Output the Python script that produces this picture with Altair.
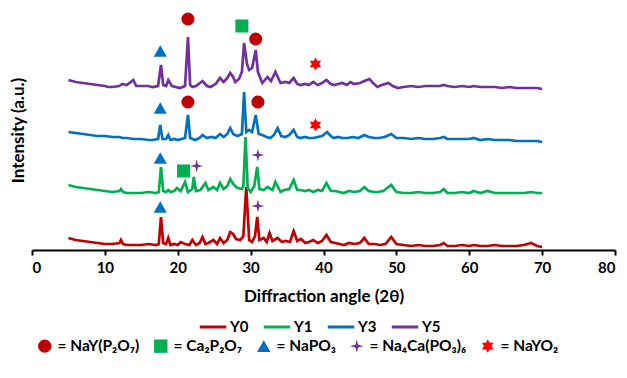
import altair as alt
import pandas as pd

FONT = "Lato"

series_names = ["Y0", "Y1", "Y3", "Y5"]
series_colors = ["#C00000", "#00B050", "#0070C0", "#7030A0"]
series_offsets = [0, 52, 104, 156]

# ---- Y0 ----
y0_x = [5, 6, 7, 8, 9, 10, 11, 12, 12.2, 12.5, 13, 14, 15, 16, 17, 17.4, 17.7, 18.0, 18.4, 18.7,
        19.0, 19.5, 20.0, 20.4, 21.0, 21.6, 22.0, 22.5, 23.0, 23.4, 23.8, 24.2, 24.9, 25.4, 25.8,
        26.3, 26.8, 27.2, 27.6, 28.0, 28.6, 29.0, 29.4, 29.8, 30.2, 30.6, 30.9, 31.2, 31.8, 32.2,
        32.6, 33.0, 33.7, 34.3, 34.8, 35.4, 35.9, 36.4, 36.9, 37.5, 38.0, 38.6, 39.2, 39.8, 40.4,
        41.0, 41.6, 42.2, 42.8, 43.5, 44.2, 45.0, 45.6, 46.2, 47.0, 47.8, 48.5, 49.3, 50.0, 51,
        52, 53, 54, 55, 56, 56.5, 57, 58, 59, 60, 60.6, 61.5, 62.5, 63.5, 64.5, 65.5, 66.5, 67.5,
        68.5, 69.3, 70]
y0_i = [12, 10, 9, 8, 7, 6, 6, 7, 10, 6, 5, 5, 5, 6, 5, 6, 33, 7, 6, 12,
        5, 6, 5, 8, 6, 5, 10, 5, 7, 13, 6, 7, 10, 6, 12,
        7, 10, 18, 16, 11, 10, 14, 63, 10, 8, 14, 33, 10, 12, 8,
        17, 9, 12, 8, 9, 8, 19, 9, 11, 7, 8, 10, 7, 9, 15,
        8, 7, 6, 5, 7, 6, 7, 12, 6, 6, 5, 6, 13, 6, 5,
        4, 5, 4, 4, 5, 7, 4, 4, 5, 4, 5, 4, 4, 5, 4, 4, 4, 5,
        7, 4, 3]

# ---- Y1 ----
y1_x = [5, 6, 7, 8, 9, 10, 11, 12, 12.2, 12.5, 13, 14, 15, 16, 17, 17.4, 17.7, 18.0, 18.4, 18.7,
        19.0, 19.5, 19.9, 20.4, 21.0, 21.4, 22.0, 22.2, 22.5, 23.1, 23.8, 24.2, 24.9, 25.4, 25.8,
        26.3, 26.8, 27.2, 27.6, 28.2, 28.8, 29.0, 29.3, 29.6, 30.0, 30.5, 30.9, 31.2, 31.8, 32.3,
        33.0, 33.4, 34.1, 34.6, 35.3, 35.9, 36.4, 36.8, 37.5, 38.0, 38.6, 39.2, 39.8, 40.4,
        41.0, 41.6, 42.2, 42.8, 43.5, 44.2, 45.0, 45.6, 46.2, 47.0, 47.4, 48.2, 49.3, 50.0, 51,
        52, 53, 54, 55, 56, 56.5, 57, 58, 59, 60, 60.6, 61.5, 62.5, 63.5, 64.5, 65.5, 66.5, 67.5,
        68.5, 69.3, 70]
y1_i = [13, 11, 10, 9, 8, 7, 6, 7, 9, 6, 5, 5, 5, 6, 5, 6, 31, 7, 6, 8,
        6, 7, 10, 7, 16, 6, 9, 21, 7, 8, 15, 8, 11, 8, 15,
        9, 12, 19, 14, 10, 9, 12, 61, 10, 6, 12, 31, 9, 8, 11,
        8, 16, 6, 8, 9, 18, 8, 8, 7, 8, 6, 8, 7, 15,
        7, 7, 6, 5, 7, 6, 7, 11, 7, 6, 6, 7, 13, 6, 5,
        5, 6, 5, 5, 6, 9, 5, 5, 6, 5, 7, 5, 7, 5, 5, 5, 5, 5,
        6, 5, 5]

# ---- Y3 ----
y3_x = [5, 6, 7, 8, 9, 10, 11, 12, 12.4, 13, 14, 15, 16, 16.5, 17.3, 17.6, 17.9, 18.4, 18.7,
        19.0, 19.5, 20.0, 20.5, 21.0, 21.4, 21.7, 22.4, 23.0, 23.4, 24.0, 24.6, 25.2, 25.8,
        26.3, 26.8, 27.2, 27.6, 28.2, 28.8, 29.1, 29.4, 29.8, 30.2, 30.7, 31.1, 31.6, 32.2,
        32.7, 33.2, 33.7, 34.2, 34.8, 35.3, 35.9, 36.4, 36.8, 37.5, 38.0, 38.6, 39.2, 39.8, 40.5,
        41.0, 41.4, 42.0, 42.6, 43.3, 44.0, 44.8, 45.6, 46.2, 47.0, 47.6, 48.4, 49.3, 50.0, 51,
        52, 53, 54, 55, 56, 56.5, 57, 58, 59, 60, 60.6, 61.5, 62.5, 63.5, 64.5, 65.5, 66.5, 67.5,
        68.5, 69.3, 70]
y3_i = [14, 13, 12, 11, 10, 10, 9, 9, 8, 8, 7, 7, 6, 6, 7, 21, 7, 7, 11,
        6, 7, 6, 7, 8, 31, 8, 6, 8, 11, 8, 9, 8, 12,
        9, 12, 18, 12, 10, 12, 54, 14, 16, 14, 31, 12, 11, 9,
        8, 11, 18, 10, 9, 11, 16, 9, 8, 9, 8, 8, 9, 10, 14,
        10, 8, 9, 8, 8, 9, 8, 11, 9, 8, 8, 9, 12, 8, 8,
        7, 8, 7, 7, 8, 9, 7, 7, 7, 7, 8, 6, 7, 6, 6, 6, 5, 5,
        5, 5, 4]

# ---- Y5 ----
y5_x = [5, 6, 7, 8, 9, 10, 10.5, 11, 12, 12.4, 13, 13.9, 14.3, 15, 16, 16.5, 17.3, 17.7, 18.0,
        18.4, 18.7, 19.2, 20.3, 21.0, 21.4, 21.7, 22.0, 22.5, 23.4, 24.0, 24.5, 25.2, 25.8,
        26.3, 26.8, 27.2, 27.6, 27.9, 28.4, 28.8, 29.1, 29.5, 29.8, 30.2, 30.7, 31.0, 31.6,
        32.3, 32.8, 33.4, 34.1, 34.8, 35.3, 35.9, 36.4, 36.8, 37.5, 38.0, 38.6, 39.2, 39.8,
        40.4, 41.0, 41.4, 42.0, 42.6, 43.2, 43.7, 44.2, 45.0, 45.6, 46.3, 46.8, 47.4, 48.0,
        48.9, 49.5, 50.2, 51, 52, 53, 54, 55, 56, 56.5, 57, 58, 59, 60, 60.6, 61.5, 62.5, 63.5,
        64.5, 65.5, 66.5, 67.5, 68.5, 69.3, 70]
y5_i = [14, 12, 11, 10, 9, 8, 7, 7, 8, 10, 9, 14, 8, 8, 8, 7, 8, 29, 9,
        8, 14, 8, 6, 8, 57, 9, 7, 8, 13, 8, 7, 10, 16,
        12, 16, 21, 17, 12, 15, 22, 51, 30, 24, 26, 44, 22, 11,
        17, 13, 22, 11, 12, 11, 16, 10, 9, 10, 9, 12, 9, 11,
        14, 10, 9, 10, 11, 9, 12, 10, 11, 13, 15, 11, 7, 9,
        11, 8, 6, 7, 8, 7, 8, 8, 8, 9, 8, 7, 8, 7, 8, 7, 7, 7,
        6, 7, 6, 6, 6, 6, 5]

# ---- phase markers ----
phases = ["NaY(P\u2082O\u2087)", "Ca\u2082P\u2082O\u2087", "NaPO\u2083",
          "Na\u2084Ca(PO\u2083)\u2086", "NaYO\u2082"]
phase_colors = ["#C00000", "#00B050", "#0070C0", "#7030A0", "#FF0000"]
star4 = "M0,-1L0.2,-0.2L1,0L0.2,0.2L0,1L-0.2,0.2L-1,0L-0.2,-0.2Z"
star6 = "M0,-1L0.866,0.5L-0.866,0.5ZM0,1L-0.866,-0.5L0.866,-0.5Z"
phase_shapes = ["circle", "square", "triangle-up", star4, star6]

marker_series = ["Y5", "Y5", "Y5", "Y5", "Y5",
                 "Y3", "Y3", "Y3", "Y3",
                 "Y1", "Y1", "Y1", "Y1",
                 "Y0", "Y0"]
marker_phase = [phases[2], phases[0], phases[1], phases[0], phases[4],
                phases[2], phases[0], phases[0], phases[4],
                phases[2], phases[1], phases[3], phases[3],
                phases[2], phases[3]]
marker_x = [17.6, 21.4, 28.8, 30.7, 38.9,
            17.6, 21.4, 31.0, 38.9,
            17.6, 20.8, 22.6, 31.0,
            17.6, 31.0]
marker_h = [43, 75, 68, 55, 30,
            38, 44, 44, 21,
            40, 27, 32, 43,
            43, 44]

# ---- tables ----
rows = []
for name, off, xs, ys in zip(series_names, series_offsets,
                             [y0_x, y1_x, y3_x, y5_x], [y0_i, y1_i, y3_i, y5_i]):
    for a, v in zip(xs, ys):
        rows.append({"series": name, "angle": a, "y": v + off})
lines_df = pd.DataFrame(rows)

off_map = dict(zip(series_names, series_offsets))
markers_df = pd.DataFrame({
    "phase": marker_phase,
    "angle": marker_x,
    "y": [off_map[s] + h for s, h in zip(marker_series, marker_h)],
})

x_enc = alt.X("angle:Q", scale=alt.Scale(domain=[0, 80], nice=False),
              axis=alt.Axis(values=list(range(0, 81, 10)), title="Diffraction angle (2θ)",
                            grid=False, domainColor="#000000", domainWidth=2,
                            tickColor="#000000", tickWidth=2, tickSize=5,
                            labelFont=FONT, labelFontSize=15, labelFontWeight="bold",
                            labelColor="#000000", labelPadding=5,
                            titleFont=FONT, titleFontSize=17, titleFontWeight="bold",
                            titleColor="#000000", titlePadding=13))
y_enc = alt.Y("y:Q", scale=alt.Scale(domain=[0, 240], nice=False),
              axis=alt.Axis(title="Intensity (a.u.)", labels=False, ticks=False,
                            domain=False, grid=False,
                            titleFont=FONT, titleFontSize=17, titleFontWeight="bold",
                            titleColor="#000000", titlePadding=5))

lines = alt.Chart(lines_df).mark_line(strokeWidth=2.7).encode(
    x=x_enc,
    y=y_enc,
    color=alt.Color("series:N",
                    scale=alt.Scale(domain=series_names, range=series_colors),
                    legend=alt.Legend(orient="none", legendX=166, legendY=302,
                                      direction="horizontal", title=None,
                                      symbolType="stroke", symbolSize=700,
                                      symbolStrokeWidth=3, labelOffset=2,
                                      columnPadding=8,
                                      labelFont=FONT, labelFontSize=15,
                                      labelFontWeight="bold", labelColor="#000000")),
)

mlegend = alt.Legend(orient="none", legendX=5, legendY=328, direction="horizontal",
                     title=None, symbolSize=180, labelOffset=5, columnPadding=13,
                     labelExpr="'= ' + datum.label", symbolStrokeWidth=0,
                     labelFont=FONT, labelFontSize=15.5, labelFontWeight="bold",
                     labelColor="#000000")

markers = alt.Chart(markers_df).mark_point(filled=True, size=170, opacity=1,
                                           strokeWidth=0).encode(
    x="angle:Q",
    y="y:Q",
    fill=alt.Fill("phase:N", scale=alt.Scale(domain=phases, range=phase_colors),
                  legend=mlegend),
    shape=alt.Shape("phase:N", scale=alt.Scale(domain=phases, range=phase_shapes),
                    legend=mlegend),
)

chart = alt.layer(lines, markers).properties(
    width=583, height=240,
    autosize=alt.AutoSizeParams(type="none"),
    padding={"left": 32, "top": 10, "right": 12, "bottom": 128},
    background="#ffffff",
).configure_view(stroke=None)

chart.save("out.html", embed_options={"renderer": "svg", "actions": False})
